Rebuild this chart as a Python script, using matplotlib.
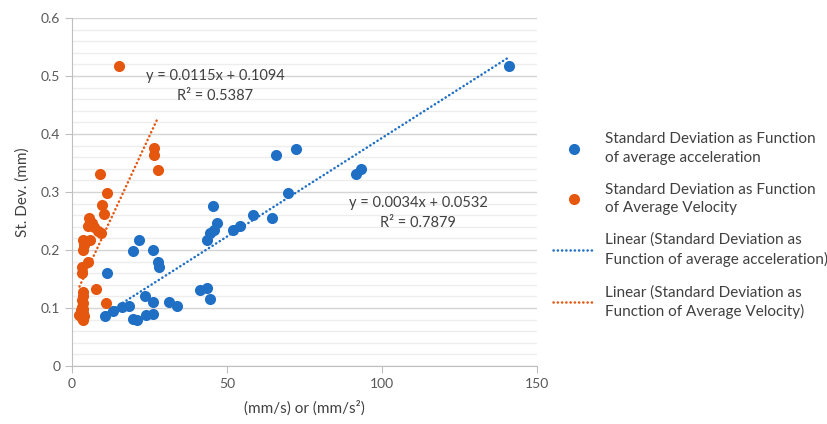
import numpy as np
import matplotlib
matplotlib.use("Agg")
import matplotlib.pyplot as plt
from matplotlib.ticker import MultipleLocator

plt.rcParams["font.family"] = ["Lato", "DejaVu Sans"]

# Standard deviation vs average acceleration (blue)
acc_x = [10.6, 11.4, 13.3, 16.0, 18.5, 19.6, 19.8, 20.9, 21.7, 23.5, 23.9, 26.0,
         26.2, 26.2, 27.8, 28.2, 31.3, 34.0, 41.3, 43.4, 43.6, 44.5, 44.5, 45.8,
         45.6, 46.9, 51.8, 54.2, 58.3, 64.6, 65.7, 69.6, 72.3, 91.5, 93.1, 140.9]
acc_y = [0.087, 0.160, 0.095, 0.101, 0.104, 0.081, 0.199, 0.079, 0.217, 0.121,
         0.088, 0.200, 0.110, 0.090, 0.180, 0.171, 0.110, 0.103, 0.131, 0.134,
         0.217, 0.115, 0.230, 0.234, 0.276, 0.247, 0.234, 0.241, 0.261, 0.255,
         0.364, 0.298, 0.374, 0.331, 0.339, 0.517]

# Standard deviation vs average velocity (orange)
vel_x = [15.3, 26.5, 26.5, 27.8, 9.0, 11.2, 9.7, 10.2, 5.6, 6.3, 7.2, 8.5, 9.3,
         3.4, 5.8, 3.5, 3.8, 5.3, 3.1, 3.1, 7.8, 11.1, 3.5, 3.4, 3.2, 3.6, 3.3,
         3.0, 3.5, 3.7, 2.4, 3.2, 3.6, 3.4, 5.2]
vel_y = [0.518, 0.375, 0.364, 0.338, 0.331, 0.298, 0.277, 0.262, 0.255, 0.247,
         0.240, 0.233, 0.230, 0.217, 0.217, 0.200, 0.208, 0.180, 0.170, 0.161,
         0.132, 0.109, 0.128, 0.121, 0.114, 0.108, 0.102, 0.096, 0.091, 0.087,
         0.088, 0.083, 0.080, 0.099, 0.241]

# trendline coefficients shown on the chart
acc_fit = (0.0034, 0.0532, 0.7879)
vel_fit = (0.0115, 0.1094, 0.5387)

blue = "#1f6fc4"
orange = "#e5560e"

fig = plt.figure(figsize=(8.28, 4.24), dpi=100)
ax = fig.add_axes([0.087, 0.1368, 0.5616, 0.8208])

ax.plot(acc_x, acc_y, "o", color=blue, markersize=8, markeredgewidth=0,
        label="Standard Deviation as Function\nof average acceleration", zorder=3)
ax.plot(vel_x, vel_y, "o", color=orange, markersize=8, markeredgewidth=0,
        label="Standard Deviation as Function\nof Average Velocity", zorder=3)

dots = (0, (0.1, 1.6))
xa = np.array([min(acc_x), max(acc_x)])
ax.plot(xa, acc_fit[0] * xa + acc_fit[1], color=blue, lw=1.8, ls=dots,
        dash_capstyle="round",
        label="Linear (Standard Deviation as\nFunction of average acceleration)", zorder=2)
xv = np.array([min(vel_x), max(vel_x)])
ax.plot(xv, vel_fit[0] * xv + vel_fit[1], color=orange, lw=1.8, ls=dots,
        dash_capstyle="round",
        label="Linear (Standard Deviation as\nFunction of Average Velocity)", zorder=2)

ax.text(46.1, 0.483, "y = %.4fx + %.4f\nR² = %.4f" % vel_fit, ha="center", va="center",
        fontsize=10.5, color="#404040", linespacing=1.5)
ax.text(111.6, 0.264, "y = %.4fx + %.4f\nR² = %.4f" % acc_fit, ha="center", va="center",
        fontsize=10.5, color="#404040", linespacing=1.5)

ax.set_xlim(0, 150)
ax.set_ylim(0, 0.6)
ax.xaxis.set_major_locator(MultipleLocator(50))
ax.yaxis.set_major_locator(MultipleLocator(0.1))
ax.yaxis.set_minor_locator(MultipleLocator(0.02))
ax.yaxis.set_major_formatter(plt.FuncFormatter(lambda v, p: "0" if v == 0 else "%.1f" % v))
ax.grid(axis="y", which="major", color="#d4d4d4", lw=1, zorder=0)
ax.grid(axis="y", which="minor", color="#ededed", lw=1, zorder=0)
ax.set_axisbelow(True)
for s in ["top", "right"]:
    ax.spines[s].set_visible(False)
for s in ["left", "bottom"]:
    ax.spines[s].set_color("#bfbfbf")
ax.tick_params(which="major", color="#bfbfbf", length=5, labelsize=10, labelcolor="#595959")
ax.tick_params(axis="y", which="minor", length=0)

ax.set_xlabel("(mm/s) or (mm/s²)", fontsize=11, color="#404040", labelpad=8)
ax.set_ylabel("St. Dev. (mm)", fontsize=11, color="#404040", labelpad=8)

leg = fig.legend(loc="upper left", bbox_to_anchor=(0.6513, 0.72), frameon=False,
                 fontsize=11, labelcolor="#404040", handlelength=2.7, handletextpad=0.72,
                 labelspacing=1.15, numpoints=1)
for t in leg.get_texts():
    t.set_linespacing(1.42)

fig.savefig("out.png", dpi=100)
